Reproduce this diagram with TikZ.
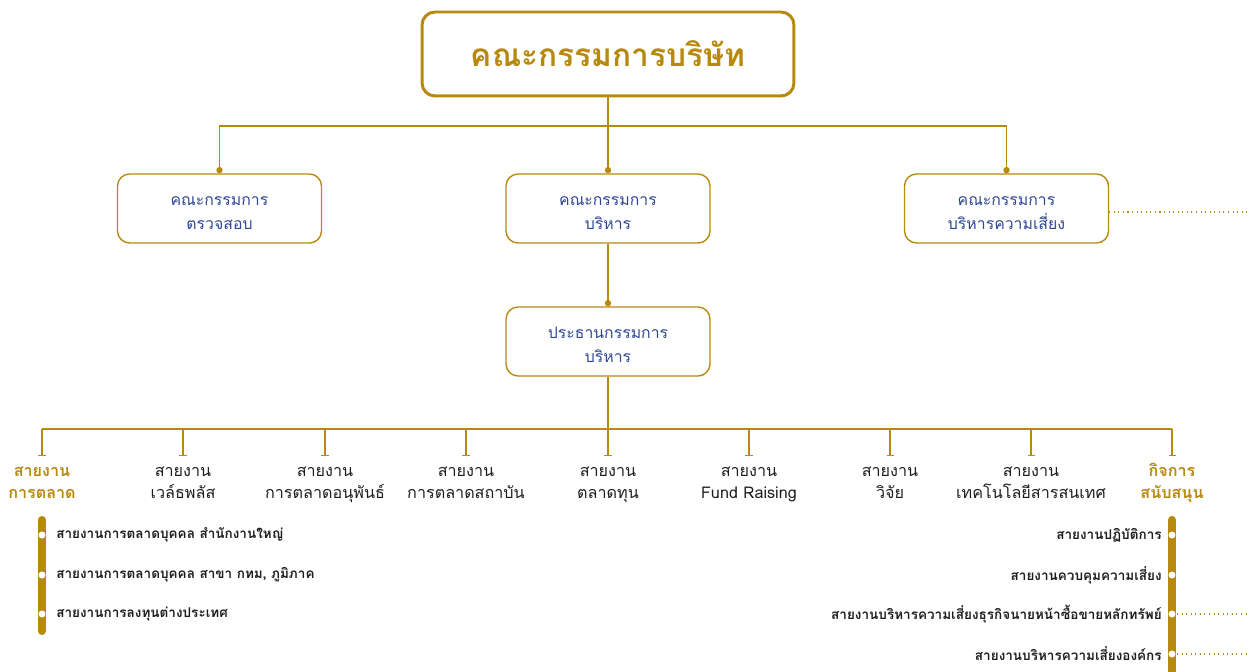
\documentclass[tikz,border=0pt]{standalone}
\usepackage{fontspec}
\setmainfont[Script=Thai]{Loma}
\usetikzlibrary{arrows.meta}
\definecolor{gold}{HTML}{B8890F}
\definecolor{navy}{HTML}{2F4796}
\definecolor{ink}{HTML}{1E1E1E}
\newcommand{\boxlines}[2]{\raisebox{-2.2pt}[\height][\depth]{\begin{tabular}{@{}c@{}}#1\\#2\end{tabular}}}
\tikzset{
  boardbox/.style={draw=gold, line width=1.7pt, rounded corners=0.26cm, minimum width=7.44cm, minimum height=1.68cm, text=gold, font=\fontsize{18}{22}\selectfont\bfseries},
  combox/.style={draw=gold, line width=0.8pt, rounded corners=0.24cm, minimum width=4.08cm, minimum height=1.38cm, inner sep=0pt, text=navy, font=\fontsize{9}{13.6}\selectfont},
  link/.style={draw=gold, line width=0.7pt},
  dotend/.style={-{Circle[length=3.6pt]}},
  tick/.style={link, -{Bar[width=4pt]}},
  div/.style={align=center, text=ink, inner sep=0pt, font=\fontsize{9.2}{12.5}\selectfont},
  keydiv/.style={div, text=gold, font=\fontsize{9.2}{12.5}\selectfont\bfseries},
  bar/.style={draw=gold, line width=4.6pt, line cap=round},
  item/.style={text=ink, inner sep=0pt, font=\fontsize{7.7}{10}\selectfont\bfseries},
  guide/.style={draw=gold, line width=0.6pt, dotted}
}
\begin{document}
\begin{tikzpicture}[x=0.02cm,y=-0.02cm]
\useasboundingbox (0,0) rectangle (1250,672);

% Board
\node[boardbox] (board) at (608,54) {คณะกรรมการบริษัท};

% Committees
\node[combox] (audit) at (219.5,208.5) {\boxlines{คณะกรรมการ}{ตรวจสอบ}};
\node[combox] (exec) at (608,208.5) {\boxlines{คณะกรรมการ}{บริหาร}};
\node[combox] (risk) at (1006.5,208.5) {\boxlines{คณะกรรมการ}{บริหารความเสี่ยง}};
\node[combox] (chair) at (608,341.5) {\boxlines{ประธานกรรมการ}{บริหาร}};

\coordinate (bus1) at (608,126);
\coordinate (bus2) at (608,429);
\coordinate (tickrow) at (608,456);
\coordinate (riskend) at (1250,212);

\draw[link,dotend] (board.south) -- (exec.north);
\draw[link,{Circle[length=3.6pt]}-{Circle[length=3.6pt]}] (audit.north) |- (bus1) -| (risk.north);
\draw[link,dotend] (exec.south) -- (chair.north);
\draw[link] (chair.south) -- (bus2);
\draw[guide] (risk.east |- riskend) -- (riskend);

% Divisions
\foreach \n/\x/\s/\t in {d1/42/keydiv/{สายงาน\\การตลาด},
    d2/183/div/{สายงาน\\เวล์ธพลัส},
    d3/325/div/{สายงาน\\การตลาดอนุพันธ์},
    d4/466/div/{สายงาน\\การตลาดสถาบัน},
    d5/608/div/{สายงาน\\ตลาดทุน},
    d6/749/div/{สายงาน\\Fund Raising},
    d7/890/div/{สายงาน\\วิจัย},
    d8/1031/div/{สายงาน\\เทคโนโลยีสารสนเทศ},
    d9/1172/keydiv/{กิจการ\\สนับสนุน}}{
  \node[\s, anchor=base] (\n) at (\x,498) {\t};
  \draw[tick] (\n |- bus2) -- (\n |- tickrow);
}
\draw[link] (d1 |- bus2) -- (d9 |- bus2);

% Marketing units
\coordinate (lt) at (42,520);
\coordinate (lb) at (42,631);
\draw[bar] (lt) -- (lb);
\foreach \n/\y/\t in {l1/535/{สายงานการตลาดบุคคล สำนักงานใหญ่},
    l2/575/{สายงานการตลาดบุคคล สาขา กทม, ภูมิภาค},
    l3/614/{สายงานการลงทุนต่างประเทศ}}{
  \node[item, anchor=west] (\n) at (56,\y) {\t};
  \fill[white] (\n.west -| lt) circle (0.07cm);
}

% Support units
\coordinate (rt) at (1172,520);
\coordinate (rb) at (1172,700);
\draw[bar] (rt) -- (rb);
\foreach \n/\y/\t in {r1/535/{สายงานปฏิบัติการ},
    r2/575/{สายงานควบคุมความเสี่ยง},
    r3/614/{สายงานบริหารความเสี่ยงธุรกิจนายหน้าซื้อขายหลักทรัพย์},
    r4/654/{สายงานบริหารความเสี่ยงองค์กร}}{
  \node[item, anchor=east] (\n) at (1162,\y) {\t};
  \fill[white] (\n.east -| rt) circle (0.07cm);
}

% Guide
\coordinate (e3) at (1250,614);
\coordinate (e4) at (1250,654);
\draw[guide] ([xshift=0.1cm]r3.east -| rt) -- (e3);
\draw[guide] ([xshift=0.1cm]r4.east -| rt) -- (e4);
\end{tikzpicture}
\end{document}
